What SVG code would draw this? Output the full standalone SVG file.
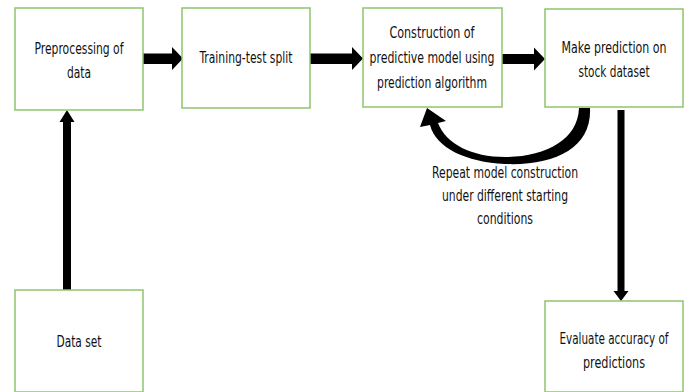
<svg xmlns="http://www.w3.org/2000/svg" width="688" height="392" viewBox="0 0 688 392">
<style>
.box{fill:#fff;stroke:#8fc46c;stroke-width:1.5}
.t{font-family:"Liberation Sans Narrow","DejaVu Sans Condensed","Liberation Sans",Arial,sans-serif;font-size:16px;fill:#111;text-anchor:middle}
.a{fill:#000}
</style>
<rect width="688" height="392" fill="#fff"/>
<g id="connectors">
<polygon class="a" points="143,53.5 172,53.5 172,47 183,58.5 172,70 172,64 143,64"/>
<polygon class="a" points="310,53.5 352,53.5 352,47 363,58.5 352,70 352,64 310,64"/>
<polygon class="a" points="502,54 534,54 534,47.5 545,59 534,70.5 534,64 502,64"/>
<polygon class="a" points="63,290 63,122 59.5,122 67,110 74.5,122 71,122 71,290"/>
<polygon class="a" points="617.5,110 624.5,110 624.5,291 628.5,291 621,301 613.5,291 617.5,291"/>
<path class="a" d="M590 108 C592 148 555 166 505 164 C466 162 436 148 430 125 L420 127 L427 108 L446 121 L438 123 C446 144 472 157 505 157 C545 157 578 140 579 108 Z"/>
</g>
<g id="n1"><rect class="box" x="15" y="8" width="128" height="102"/>
<text class="t" x="79" y="54" textLength="89" lengthAdjust="spacingAndGlyphs">Preprocessing of</text>
<text class="t" x="79" y="78" textLength="24" lengthAdjust="spacingAndGlyphs">data</text></g>
<g id="n2"><rect class="box" x="182" y="8" width="128" height="100"/>
<text class="t" x="246" y="63" textLength="93" lengthAdjust="spacingAndGlyphs">Training-test split</text></g>
<g id="n3"><rect class="box" x="363" y="8" width="139" height="99"/>
<text class="t" x="432" y="38" textLength="85" lengthAdjust="spacingAndGlyphs">Construction of</text>
<text class="t" x="432" y="63" textLength="125" lengthAdjust="spacingAndGlyphs">predictive model using</text>
<text class="t" x="432" y="88" textLength="110" lengthAdjust="spacingAndGlyphs">prediction algorithm</text></g>
<g id="n4"><rect class="box" x="545" y="9" width="138" height="98"/>
<text class="t" x="614" y="53" textLength="105" lengthAdjust="spacingAndGlyphs">Make prediction on</text>
<text class="t" x="614" y="77" textLength="71" lengthAdjust="spacingAndGlyphs">stock dataset</text></g>
<g id="n5"><rect class="box" x="15" y="290" width="128" height="102"/>
<text class="t" x="79" y="347" textLength="45" lengthAdjust="spacingAndGlyphs">Data set</text></g>
<g id="n6"><rect class="box" x="545" y="301" width="138" height="91"/>
<text class="t" x="614" y="344" textLength="109" lengthAdjust="spacingAndGlyphs">Evaluate accuracy of</text>
<text class="t" x="614" y="368" textLength="62" lengthAdjust="spacingAndGlyphs">predictions</text></g>
<g id="label">
<text class="t" x="505" y="178" textLength="146" lengthAdjust="spacingAndGlyphs">Repeat model construction</text>
<text class="t" x="505" y="201" textLength="126" lengthAdjust="spacingAndGlyphs">under different starting</text>
<text class="t" x="505" y="224" textLength="56" lengthAdjust="spacingAndGlyphs">conditions</text></g>
</svg>
